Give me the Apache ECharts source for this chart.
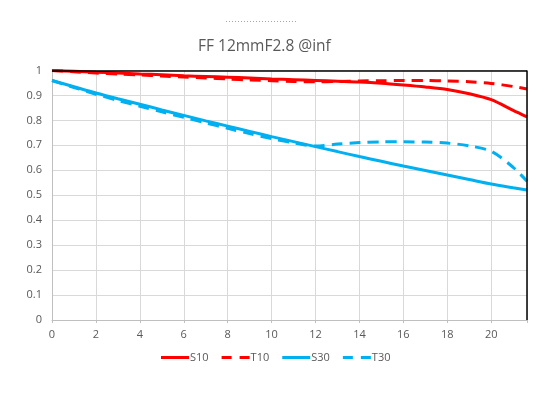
<!DOCTYPE html>
<html>
<head>
<meta charset="utf-8">
<script src="https://cdn.jsdelivr.net/npm/echarts@6/dist/echarts.min.js"></script>
<style>
  html, body { margin: 0; padding: 0; background: #fff; }
  #chart { width: 551px; height: 398px; }
</style>
</head>
<body>
<div id="chart"></div>
<script>
const title = 'FF 12mmF2.8 @inf';
const xMax = 21.63;

// image height (mm) where each sample is taken
const heights = [0, 1, 2, 3, 4, 5, 6, 7, 8, 9, 10, 11, 12, 13, 14, 15, 16, 17, 18, 19, 20, 21, 21.63];

const s10 = [1.0, 0.997, 0.993, 0.99, 0.986, 0.983, 0.979, 0.976, 0.973, 0.97, 0.966, 0.963, 0.96, 0.957, 0.954, 0.949, 0.942, 0.934, 0.924, 0.907, 0.883, 0.84, 0.814];
const t10 = [1.0, 0.995, 0.99, 0.986, 0.982, 0.978, 0.974, 0.97, 0.966, 0.962, 0.959, 0.956, 0.955, 0.956, 0.958, 0.959, 0.96, 0.96, 0.958, 0.955, 0.948, 0.936, 0.926];
const s30 = [0.96, 0.935, 0.91, 0.887, 0.865, 0.842, 0.82, 0.798, 0.777, 0.756, 0.735, 0.715, 0.695, 0.675, 0.655, 0.636, 0.617, 0.599, 0.581, 0.563, 0.545, 0.53, 0.521];
const t30 = [0.96, 0.932, 0.905, 0.88, 0.857, 0.834, 0.812, 0.79, 0.768, 0.747, 0.727, 0.71, 0.697, 0.705, 0.711, 0.714, 0.714, 0.713, 0.709, 0.698, 0.676, 0.612, 0.556];

const RED = '#ff0000';
const BLUE = '#00b0f0';
const DASH = [11, 7];
const ICON_SOLID = 'path://M0,0h28v3h-28z';
const ICON_DASH = 'path://M0,0h10v3h-10z M18,0h10v3h-10z';

function pairs(ys) {
  return heights.map((h, i) => [h, ys[i]]);
}

function makeLine(name, ys, color, dashed) {
  return {
    name,
    type: 'line',
    data: pairs(ys),
    smooth: 0.3,
    showSymbol: false,
    symbol: 'none',
    lineStyle: { color, width: 3, type: dashed ? DASH : 'solid', cap: 'butt' },
    itemStyle: { color },
    emphasis: { disabled: true }
  };
}

const chart = echarts.init(document.getElementById('chart'), null, { renderer: 'canvas' });
chart.setOption({
  animation: false,
  backgroundColor: '#ffffff',
  title: {
    text: title,
    left: 193,
    top: 34,
    textStyle: { fontFamily: 'Open Sans', fontSize: 15.5, fontWeight: 'normal', color: '#595959' }
  },
  graphic: [{
    type: 'line',
    shape: { x1: 226, y1: 21.5, x2: 296, y2: 21.5 },
    style: { stroke: '#a6a6a6', lineWidth: 1, lineDash: [1, 2] }
  }],
  legend: {
    top: 347,
    left: 156,
    itemWidth: 28,
    itemHeight: 3,
    itemGap: 13,
    itemStyle: { borderWidth: 0 },
    lineStyle: { width: 0 },
    textStyle: { fontFamily: 'Open Sans', fontSize: 11, color: '#595959', padding: [0, 0, 0, -4] },
    data: [
      { name: 'S10', icon: ICON_SOLID },
      { name: 'T10', icon: ICON_DASH },
      { name: 'S30', icon: ICON_SOLID },
      { name: 'T30', icon: ICON_DASH }
    ]
  },
  grid: { left: 52, right: 24, top: 70.5, bottom: 78 },
  xAxis: {
    type: 'value',
    min: 0,
    max: xMax,
    interval: 2,
    axisLine: { show: true, onZero: false, lineStyle: { color: '#bfbfbf', width: 1 } },
    axisTick: { show: true, length: 3, lineStyle: { color: '#bfbfbf' } },
    axisLabel: {
      color: '#595959', fontFamily: 'Open Sans', fontSize: 11, margin: 9,
      formatter: (v) => (Math.round(v) === v && v % 2 === 0 ? String(v) : '')
    },
    splitLine: { show: true, lineStyle: { color: '#d9d9d9', width: 1 } }
  },
  yAxis: {
    type: 'value',
    min: 0,
    max: 1,
    interval: 0.1,
    axisLine: { show: true, lineStyle: { color: '#bfbfbf', width: 1 } },
    axisTick: { show: false },
    axisLabel: { color: '#595959', fontFamily: 'Open Sans', fontSize: 11, margin: 10 },
    splitLine: { show: true, lineStyle: { color: '#d9d9d9', width: 1 } }
  },
  series: [
    makeLine('S10', s10, RED, false),
    makeLine('T10', t10, RED, true),
    makeLine('S30', s30, BLUE, false),
    makeLine('T30', t30, BLUE, true),
    {
      // dark frame on top and right like the source plot
      name: 'frame',
      type: 'line',
      silent: true,
      data: [],
      markLine: {
        silent: true,
        symbol: 'none',
        label: { show: false },
        lineStyle: { color: '#000000', width: 1.5, type: 'solid' },
        data: [
          [{ coord: [0, 1] }, { coord: [xMax, 1] }],
          [{ coord: [xMax, 1] }, { coord: [xMax, 0] }]
        ]
      }
    }
  ]
});
</script>
</body>
</html>
